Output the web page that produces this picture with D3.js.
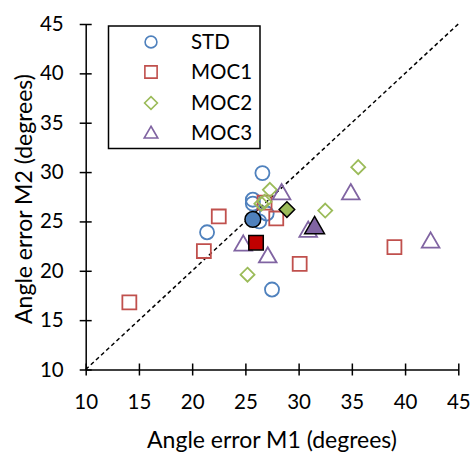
<!DOCTYPE html>
<html>
<head>
<meta charset="utf-8">
<script src="https://cdn.jsdelivr.net/npm/d3@7"></script>
<style>
  body { margin: 0; background: #fff; }
  svg { font-family: Lato, "Open Sans", sans-serif; }
</style>
</head>
<body>
<svg id="chart" width="473" height="453"></svg>
<script>
// series names (legend order)
var seriesNames = ["STD", "MOC1", "MOC2", "MOC3"];

// individual points, [M1, M2] in degrees
var stdPoints  = [[26.6, 29.9], [25.7, 27.2], [25.7, 26.8], [27.0, 25.8], [26.3, 25.0], [21.4, 23.9], [27.5, 18.1]];
var moc1Points = [[14.1, 16.8], [22.5, 25.5], [21.1, 22.0], [26.8, 26.9], [27.9, 25.3], [30.1, 20.7], [39.0, 22.4]];
var moc2Points = [[27.3, 28.2], [26.8, 27.0], [26.5, 26.8], [32.5, 26.1], [35.6, 30.5], [25.2, 19.6]];
var moc3Points = [[28.4, 27.9], [34.9, 27.9], [30.9, 24.1], [24.8, 22.7], [27.1, 21.5], [42.4, 23.0]];

// series means (filled markers)
var meanPoints = [[25.7, 25.2], [26.0, 22.85], [28.9, 26.2], [31.5, 24.5]];

var tickValues = [10, 15, 20, 25, 30, 35, 40, 45];
var xTitle = "Angle error M1 (degrees)",
    yTitle = "Angle error M2 (degrees)";

// colors
var colors = ["#4F81BD", "#C0504D", "#9BBB59", "#8064A2"],
    meanFills = ["#4F81BD", "#C00000", "#9BBB59", "#8064A2"];

var svg = d3.select("#chart");

var x = d3.scaleLinear().domain([10, 45]).range([85.7, 458.3]),
    y = d3.scaleLinear().domain([10, 45]).range([369.5, 24]);

// diagonal y = x
svg.append("line")
    .attr("x1", x(10)).attr("y1", y(10))
    .attr("x2", x(45)).attr("y2", y(45))
    .attr("stroke", "#000")
    .attr("stroke-width", 1.5)
    .attr("stroke-dasharray", "4,3");

// axes
var xAxis = svg.append("g")
    .attr("transform", "translate(0," + y(10) + ")")
    .call(d3.axisBottom(x).tickValues(tickValues).tickSize(6).tickSizeOuter(0));
xAxis.selectAll(".tick line").attr("y1", -6).attr("y2", 6);
xAxis.selectAll(".tick text").attr("y", 25).attr("dy", "0.71em");

var yAxis = svg.append("g")
    .attr("transform", "translate(" + x(10) + ",0)")
    .call(d3.axisLeft(y).tickValues(tickValues).tickSize(6).tickSizeOuter(0));
yAxis.selectAll(".tick line").attr("x1", -6).attr("x2", 6);
yAxis.selectAll(".tick text").attr("x", -22);

svg.selectAll(".domain").attr("stroke", "#000").attr("stroke-width", 1.5);
svg.selectAll(".tick line").attr("stroke", "#000").attr("stroke-width", 1.5);
svg.selectAll(".tick text")
    .attr("fill", "#000")
    .style("font-size", "20.5px")
    .style("font-family", "Lato, 'Open Sans', sans-serif");

// axis titles
svg.append("text")
    .attr("x", 272).attr("y", 440)
    .attr("dy", "0.35em")
    .attr("text-anchor", "middle")
    .style("font-size", "23px")
    .text(xTitle);

svg.append("text")
    .attr("transform", "translate(24,199) rotate(-90)")
    .attr("dy", "0.35em")
    .attr("text-anchor", "middle")
    .style("font-size", "23px")
    .text(yTitle);

// marker shapes
var shapes = [d3.symbolCircle, d3.symbolSquare, d3.symbolDiamond2, d3.symbolTriangle];
var sizes = [155, 195, 125, 135],
    meanSizes = [195, 210, 155, 170],
    legendSizes = [110, 150, 105, 80];

function marker(type, size) {
  return d3.symbol().type(type).size(size)();
}

function triOffset(i, s) {
  // shift triangle so its bounding box is centered
  return i === 3 ? Math.sqrt(s) * 0.12 : 0;
}

var allPoints = [stdPoints, moc1Points, moc2Points, moc3Points];

allPoints.forEach(function(pts, i) {
  svg.append("g").selectAll("path")
      .data(pts)
    .enter().append("path")
      .attr("d", marker(shapes[i], sizes[i]))
      .attr("transform", function(d) {
        return "translate(" + x(d[0]) + "," + (y(d[1]) + triOffset(i, sizes[i])) + ")";
      })
      .attr("fill", "none")
      .attr("stroke", colors[i])
      .attr("stroke-width", 1.8);
});

// means
svg.append("g").selectAll("path")
    .data(meanPoints)
  .enter().append("path")
    .attr("d", function(d, i) { return marker(shapes[i], meanSizes[i]); })
    .attr("transform", function(d, i) {
      return "translate(" + x(d[0]) + "," + (y(d[1]) + triOffset(i, meanSizes[i])) + ")";
    })
    .attr("fill", function(d, i) { return meanFills[i]; })
    .attr("stroke", "#000")
    .attr("stroke-width", 1.5);

// legend
var legend = svg.append("g");
legend.append("rect")
    .attr("x", 108.5).attr("y", 26)
    .attr("width", 151.5).attr("height", 122.5)
    .attr("fill", "#fff")
    .attr("stroke", "#000")
    .attr("stroke-width", 1.5);

var rowY = [42, 72, 103, 133];
seriesNames.forEach(function(name, i) {
  legend.append("path")
      .attr("d", marker(shapes[i], legendSizes[i]))
      .attr("transform", "translate(151," + (rowY[i] + triOffset(i, legendSizes[i])) + ")")
      .attr("fill", "none")
      .attr("stroke", colors[i])
      .attr("stroke-width", 1.6);
  legend.append("text")
      .attr("x", 191).attr("y", rowY[i])
      .attr("dy", "0.35em")
      .style("font-size", "20.5px")
      .text(name);
});
</script>
</body>
</html>
